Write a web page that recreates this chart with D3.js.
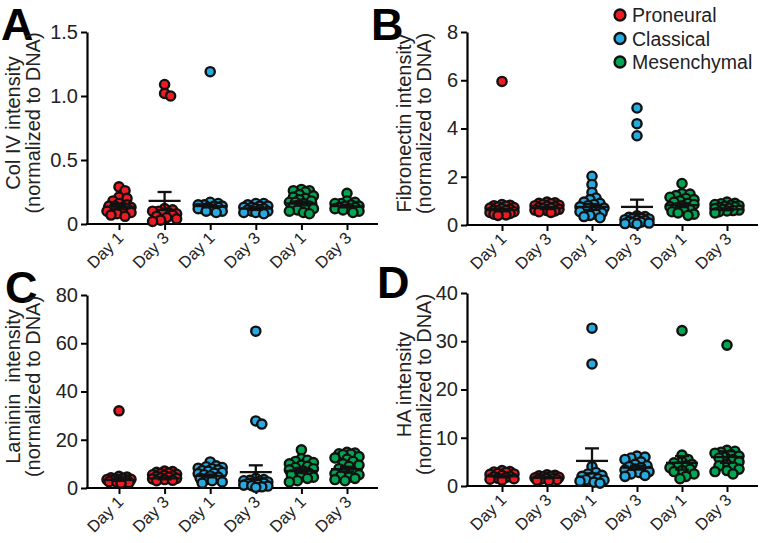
<!DOCTYPE html>
<html><head><meta charset="utf-8">
<script src="https://cdn.jsdelivr.net/npm/d3@7"></script>
<style>body{margin:0;background:#fff} svg{display:block;font-family:Arial,"Liberation Sans",sans-serif} .ttl{white-space:pre}</style>
</head><body><svg id="c" width="762" height="543"></svg>
<script>
// ---------- data ----------
const groupLabels = ["Day 1","Day 3","Day 1","Day 3","Day 1","Day 3"];
const groupSubtype = [0,0,1,1,2,2];
const subtypes = ["Proneural","Classical","Mesenchymal"];
const subtypeColors = ["#ed1c24","#27aae1","#00a651"];

const colIV = [
  [0.29,0.26,0.21,0.20,0.18,0.16,0.15,0.14,0.14,0.13,0.13,0.12,0.12,0.11,0.10,0.10,0.09,0.08,0.07,0.06],
  [1.09,1.02,1.00,0.12,0.11,0.10,0.10,0.09,0.08,0.08,0.07,0.06,0.05,0.04,0.03,0.02],
  [1.19,0.17,0.16,0.15,0.15,0.14,0.14,0.13,0.13,0.12,0.12,0.11,0.10,0.10,0.09],
  [0.16,0.16,0.15,0.14,0.14,0.13,0.13,0.12,0.12,0.11,0.11,0.10,0.10,0.09,0.09,0.08],
  [0.27,0.26,0.26,0.25,0.23,0.22,0.21,0.20,0.19,0.18,0.17,0.17,0.16,0.15,0.14,0.14,0.13,0.12,0.11,0.10,0.09,0.08],
  [0.24,0.18,0.17,0.16,0.16,0.15,0.14,0.14,0.13,0.13,0.12,0.12,0.11,0.10,0.09]
];
const colIVMean = [0.135,0.18,0.14,0.12,0.16,0.14];
const colIVSem  = [0.02,0.07,0.01,0.01,0.015,0.01];

const fibronectin = [
  [5.95,0.85,0.82,0.80,0.78,0.75,0.72,0.70,0.68,0.65,0.62,0.60,0.58,0.55,0.52,0.50,0.48,0.45,0.42,0.40],
  [0.95,0.92,0.90,0.88,0.85,0.82,0.80,0.78,0.75,0.72,0.70,0.68,0.65,0.62,0.60,0.58,0.55,0.52],
  [2.02,1.68,1.35,1.12,1.05,0.95,0.90,0.85,0.80,0.75,0.70,0.65,0.60,0.58,0.55,0.50,0.45,0.40,0.35,0.30],
  [4.85,4.20,3.70,0.38,0.35,0.32,0.30,0.28,0.25,0.22,0.20,0.18,0.15,0.12,0.10,0.08,0.06,0.05],
  [1.72,1.30,1.28,1.22,1.15,1.10,1.05,1.00,0.95,0.90,0.85,0.80,0.75,0.70,0.65,0.60,0.55,0.50,0.45,0.40],
  [0.95,0.90,0.88,0.85,0.82,0.80,0.78,0.75,0.72,0.70,0.68,0.65,0.62,0.60,0.58,0.55,0.50]
];
const fibronectinMean = [0.62,0.70,0.75,0.75,0.82,0.65];
const fibronectinSem  = [0.05,0.04,0.12,0.30,0.08,0.04];

const laminin = [
  [32.0,4.8,4.5,4.2,4.0,3.8,3.6,3.5,3.3,3.2,3.0,2.8,2.6,2.4,2.2,2.0],
  [7.0,6.8,6.5,6.2,6.0,5.7,5.5,5.2,5.0,4.8,4.5,4.2,4.0,3.8,3.5,3.2,3.0],
  [10.8,9.2,8.8,8.5,8.2,8.0,7.5,7.2,7.0,6.5,6.2,6.0,5.5,5.0,4.5,4.0,3.5,3.0,2.5,2.0],
  [65.0,27.8,26.5,4.0,3.5,3.2,3.0,2.8,2.5,2.2,2.0,1.8,1.5,1.2,1.0,0.8,0.5,0.3],
  [15.8,12.2,11.5,11.0,10.5,10.0,9.5,9.0,8.5,8.0,7.5,7.0,6.5,6.0,5.5,5.0,4.5,4.0,3.0,2.5],
  [14.8,14.5,14.2,14.0,13.8,13.0,12.5,12.0,11.0,10.0,9.5,9.0,8.0,7.0,6.5,6.0,5.5,5.0,4.5,4.0,3.5,3.0]
];
const lamininMean = [3.3,4.0,5.0,6.6,7.0,7.8];
const lamininSem  = [0.3,0.4,0.6,2.8,0.8,1.0];

const ha = [
  [3.2,3.0,2.9,2.8,2.6,2.5,2.4,2.2,2.0,1.9,1.8,1.6,1.5,1.4,1.2],
  [2.3,2.2,2.1,2.0,1.9,1.8,1.7,1.6,1.5,1.4,1.3,1.2,1.1],
  [32.7,25.3,4.0,2.8,2.5,2.2,2.0,1.8,1.5,1.3,1.2,1.0,0.8,0.6],
  [6.2,6.0,5.8,5.5,5.0,4.5,4.2,4.0,3.8,3.5,3.3,3.0,2.8,2.5,2.2,2.0],
  [32.2,6.4,5.5,5.0,4.8,4.5,4.2,4.0,3.8,3.5,3.2,3.0,2.5,2.0,1.5],
  [29.2,7.4,7.2,7.0,6.8,6.5,6.2,6.0,5.8,5.5,5.0,4.5,4.2,4.0,3.5,3.2,3.0,2.5]
];
const haMean = [2.0,1.7,5.2,3.8,4.8,6.0];
const haSem  = [0.2,0.1,2.6,0.4,1.4,1.2];

const panels = [
  {letter:"A", values:colIV, mean:colIVMean, sem:colIVSem, yMax:1.5, ticks:[0,0.5,1.0,1.5],
   title:["Col IV intensity","(normalized to DNA)"], ax:87, x0:119, x1:347, xEnd:378, yTop:32, yBot:224, tx:20, lx:1, ly:40},
  {letter:"B", values:fibronectin, mean:fibronectinMean, sem:fibronectinSem, yMax:8, ticks:[0,2,4,6,8],
   title:["Fibronectin intensity","(normalized to DNA)"], ax:467, x0:502, x1:727, xEnd:758, yTop:32, yBot:225, tx:411, lx:371, ly:40},
  {letter:"C", values:laminin, mean:lamininMean, sem:lamininSem, yMax:80, ticks:[0,20,40,60,80],
   title:["Laminin  intensity","(normalized to DNA)"], ax:87, x0:119, x1:347, xEnd:378, yTop:295, yBot:488, tx:20, lx:5, ly:303},
  {letter:"D", values:ha, mean:haMean, sem:haSem, yMax:40, ticks:[0,10,20,30,40],
   title:["HA intensity","(normalized to DNA)"], ax:467, x0:502, x1:727, xEnd:758, yTop:293, yBot:486, tx:411, lx:377, ly:298}
];

// ---------- drawing ----------
const svg = d3.select("#c");
const R = 4.6, MIN_D = 6.2, STEP = 2, MAXOFF = 12;

function swarm(vals, y) {
  const placed = [];
  const sorted = vals.map((v,i)=>({v, y:y(v)})).sort((a,b)=>b.v-a.v);
  const offs = [0];
  for (let k=1; k*STEP<=MAXOFF; k++){ offs.push(k*STEP, -k*STEP); }
  sorted.forEach(p => {
    let best = 0, bestD = -1;
    for (const off of offs){
      const dmin = placed.length ? d3.min(placed, q => Math.hypot(q.dx-off, q.y-p.y)) : Infinity;
      if (dmin >= MIN_D) { best = off; bestD = Infinity; break; }
      if (dmin > bestD + 0.3) { bestD = dmin; best = off; }
    }
    p.dx = best;
    placed.push(p);
  });
  return placed;
}

panels.forEach(P => {
  const g = svg.append("g");
  const y = d3.scaleLinear().domain([0,P.yMax]).range([P.yBot,P.yTop]);
  const x = d3.scalePoint().domain(d3.range(6)).range([P.x0,P.x1]);

  // letter
  g.append("text").attr("x",P.lx).attr("y",P.ly).text(P.letter)
    .attr("font-size",45).attr("font-weight","bold").attr("fill","#000");

  // y axis
  const fmt = d => d===0 ? "0" : (P.yMax<2 ? d3.format(".1f")(d) : d3.format("d")(d));
  const ya = g.append("g").attr("transform",`translate(${P.ax},0)`)
    .call(d3.axisLeft(y).tickValues(P.ticks).tickFormat(fmt).tickSize(6).tickSizeOuter(0).tickPadding(3));
  ya.select(".domain").attr("stroke","#000").attr("stroke-width",2.2);
  ya.selectAll(".tick line").attr("stroke","#000").attr("stroke-width",2);
  ya.selectAll(".tick text").attr("font-size",20).attr("fill","#222").attr("font-family","Arial,'Liberation Sans',sans-serif");

  // x axis
  const xa = g.append("g").attr("transform",`translate(0,${P.yBot})`)
    .call(d3.axisBottom(x).tickFormat(i=>groupLabels[i]).tickSize(6).tickSizeOuter(0));
  xa.select(".domain").remove();
  g.append("line").attr("x1",P.ax-1).attr("x2",P.xEnd).attr("y1",P.yBot).attr("y2",P.yBot)
    .attr("stroke","#000").attr("stroke-width",2.2);
  xa.selectAll(".tick line").attr("stroke","#000").attr("stroke-width",2);
  xa.selectAll(".tick text").attr("font-size",16.5).attr("fill","#222")
    .attr("font-family","Arial,'Liberation Sans',sans-serif")
    .attr("text-anchor","end").attr("dy",0).attr("y",0)
    .attr("transform","translate(5,15) rotate(-45)");

  // y title
  const cy = (P.yTop+P.yBot)/2 - 5;
  P.title.forEach((t,i)=>{
    g.append("text").attr("class","ttl").attr("transform",`translate(${P.tx + i*20},${cy}) rotate(-90)`)
      .attr("text-anchor","middle").attr("font-size",20).attr("fill","#222").text(t);
  });

  // points
  P.values.forEach((vals,gi)=>{
    const pts = swarm(vals,y);
    g.append("g").selectAll("circle").data(pts).join("circle")
      .attr("cx",d=>x(gi)+d.dx).attr("cy",d=>d.y).attr("r",R)
      .attr("fill",subtypeColors[groupSubtype[gi]]).attr("stroke","#111").attr("stroke-width",2.4);
    // mean + sem
    const cx = x(gi), m = P.mean[gi], s = P.sem[gi];
    const eg = g.append("g").attr("stroke","#111").attr("stroke-width",2.3);
    eg.append("line").attr("x1",cx-16).attr("x2",cx+16).attr("y1",y(m)).attr("y2",y(m));
    eg.append("line").attr("x1",cx).attr("x2",cx).attr("y1",y(m-s)).attr("y2",y(m+s));
    eg.append("line").attr("x1",cx-7).attr("x2",cx+7).attr("y1",y(m+s)).attr("y2",y(m+s));
    eg.append("line").attr("x1",cx-7).attr("x2",cx+7).attr("y1",y(m-s)).attr("y2",y(m-s));
  });
});

// legend
const leg = svg.append("g").attr("transform","translate(620,15)");
subtypes.forEach((s,i)=>{
  const r = leg.append("g").attr("transform",`translate(0,${i*23.5})`);
  r.append("circle").attr("r",5.5).attr("fill",subtypeColors[i]).attr("stroke","#111").attr("stroke-width",2.3);
  r.append("text").attr("x",12).attr("y",7).attr("font-size",19.5).attr("fill","#222").text(s);
});
</script></body></html>
